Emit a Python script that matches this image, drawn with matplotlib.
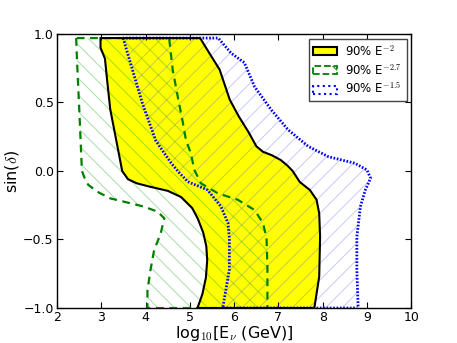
import matplotlib
matplotlib.use("Agg")
import matplotlib.pyplot as plt
from matplotlib.patches import Polygon, Patch
import numpy as np

plt.rcParams['mathtext.fontset'] = 'cm'
plt.rcParams['font.family'] = ['DejaVu Sans']
plt.rcParams['hatch.linewidth'] = 0.7

# --- data ---
# E^-2 (yellow, solid black)
e2_left_x = [2.98, 2.98, 3.08, 3.14, 3.20, 3.32, 3.47, 3.60, 3.80, 4.10, 4.50, 4.80, 5.05, 5.18, 5.30, 5.37, 5.39, 5.36, 5.28, 5.17]
e2_left_y = [0.97, 0.90, 0.82, 0.63, 0.45, 0.25, 0.00, -0.06, -0.09, -0.115, -0.145, -0.19, -0.27, -0.35, -0.45, -0.55, -0.65, -0.78, -0.90, -1.0]
e2_right_x = [5.23, 5.40, 5.67, 5.90, 6.10, 6.33, 6.50, 6.65, 6.85, 7.05, 7.20, 7.32, 7.48, 7.71, 7.86, 7.92, 7.94, 7.92, 7.81]
e2_right_y = [0.97, 0.88, 0.74, 0.52, 0.40, 0.28, 0.18, 0.14, 0.115, 0.08, 0.04, 0.0, -0.08, -0.139, -0.21, -0.31, -0.48, -0.77, -1.0]

# E^-2.7 (green dashed)
e27_left_x = [2.43, 2.45, 2.50, 2.56, 2.62, 2.70, 2.90, 3.20, 3.51, 3.96, 4.27, 4.42, 4.34, 4.19, 4.11, 4.04, 4.04]
e27_left_y = [0.97, 0.80, 0.45, 0.0, -0.05, -0.10, -0.15, -0.20, -0.224, -0.26, -0.297, -0.345, -0.455, -0.58, -0.72, -0.87, -1.0]
e27_right_x = [4.53, 4.61, 4.72, 4.83, 4.91, 5.02, 5.10, 5.25, 5.63, 6.08, 6.46, 6.65, 6.73, 6.75, 6.75]
e27_right_y = [0.97, 0.74, 0.55, 0.37, 0.226, 0.13, 0.007, -0.09, -0.163, -0.21, -0.285, -0.38, -0.49, -0.70, -1.0]

# E^-1.5 (blue dotted)
e15_left_x = [3.49, 3.70, 3.93, 4.23, 4.57, 4.75, 4.95, 5.40, 5.70, 5.86, 5.89, 5.89, 5.74]
e15_left_y = [0.97, 0.74, 0.49, 0.22, 0.06, -0.01, -0.078, -0.139, -0.26, -0.38, -0.49, -0.72, -1.0]
e15_right_x = [5.64, 5.93, 6.23, 6.46, 6.84, 7.22, 7.67, 8.13, 8.73, 9.00, 9.08, 8.96, 8.85, 8.77, 8.77, 8.80]
e15_right_y = [0.97, 0.86, 0.79, 0.615, 0.445, 0.30, 0.18, 0.104, 0.056, 0.007, -0.053, -0.14, -0.26, -0.48, -0.72, -1.0]

labels = [r"90% E$^{-2}$", r"90% E$^{-2.7}$", r"90% E$^{-1.5}$"]
x_ticks = [2, 3, 4, 5, 6, 7, 8, 9, 10]
y_ticks = [-1.0, -0.5, 0.0, 0.5, 1.0]


def region(lx, ly, rx, ry):
    left = np.column_stack([lx, ly])
    right = np.column_stack([rx, ry])[::-1]
    return np.vstack([left, right])


fig = plt.figure(figsize=(4.57, 3.43), dpi=100)
ax = fig.add_axes([0.125, 0.102, 0.775, 0.799])

r2 = region(e2_left_x, e2_left_y, e2_right_x, e2_right_y)
r27 = region(e27_left_x, e27_left_y, e27_right_x, e27_right_y)
r15 = region(e15_left_x, e15_left_y, e15_right_x, e15_right_y)

# yellow fill
ax.add_patch(Polygon(r2, closed=True, facecolor='yellow', edgecolor='none', zorder=1))
# hatches
ax.add_patch(Polygon(r27, closed=True, facecolor='none', edgecolor=(0.1, 0.65, 0.1, 0.38),
                     linewidth=0, hatch='\\\\', zorder=2))
ax.add_patch(Polygon(r15, closed=True, facecolor='none', edgecolor=(0.3, 0.3, 0.95, 0.3),
                     linewidth=0, hatch='//', zorder=2))
# outlines
ax.add_patch(Polygon(r27, closed=True, facecolor='none', edgecolor='green',
                     linewidth=1.6, linestyle=(0, (3.5, 2.5)), zorder=3))
ax.add_patch(Polygon(r15, closed=True, facecolor='none', edgecolor='blue',
                     linewidth=2.0, linestyle=(0, (0.6, 0.6)), zorder=3))
ax.add_patch(Polygon(r2, closed=True, facecolor='none', edgecolor='black',
                     linewidth=1.5, zorder=4))

ax.set_xlim(2, 10)
ax.set_ylim(-1.0, 1.0)
ax.set_xticks(x_ticks)
ax.set_yticks(y_ticks)
ax.tick_params(direction='in', top=True, right=True, labelsize=9, length=4)
ax.tick_params(axis='x', pad=2.0)
ax.tick_params(axis='y', pad=2.5)
for s in ax.spines.values():
    s.set_linewidth(1.0)

ax.set_xlabel(r"log$_{10}$[E$_\nu$ (GeV)]", fontsize=11.5, labelpad=0.5)
ax.set_ylabel(r"sin($\delta$)", fontsize=11.5, labelpad=1.5)

handles = [
    Patch(facecolor='yellow', edgecolor='black', linewidth=1.5),
    Patch(facecolor='none', edgecolor='green', linewidth=1.3, linestyle='--', hatch='\\'),
    Patch(facecolor='none', edgecolor='blue', linewidth=1.5, linestyle=':', hatch='/'),
]
leg = ax.legend(handles, labels, loc='upper right', fontsize=8.5, fancybox=False,
                framealpha=1, edgecolor='#444444', handlelength=2.0, handleheight=0.65,
                borderaxespad=0.4, labelspacing=0.35, handletextpad=0.7)
leg.get_frame().set_linewidth(1.0)

fig.savefig("out.png", dpi=100)
